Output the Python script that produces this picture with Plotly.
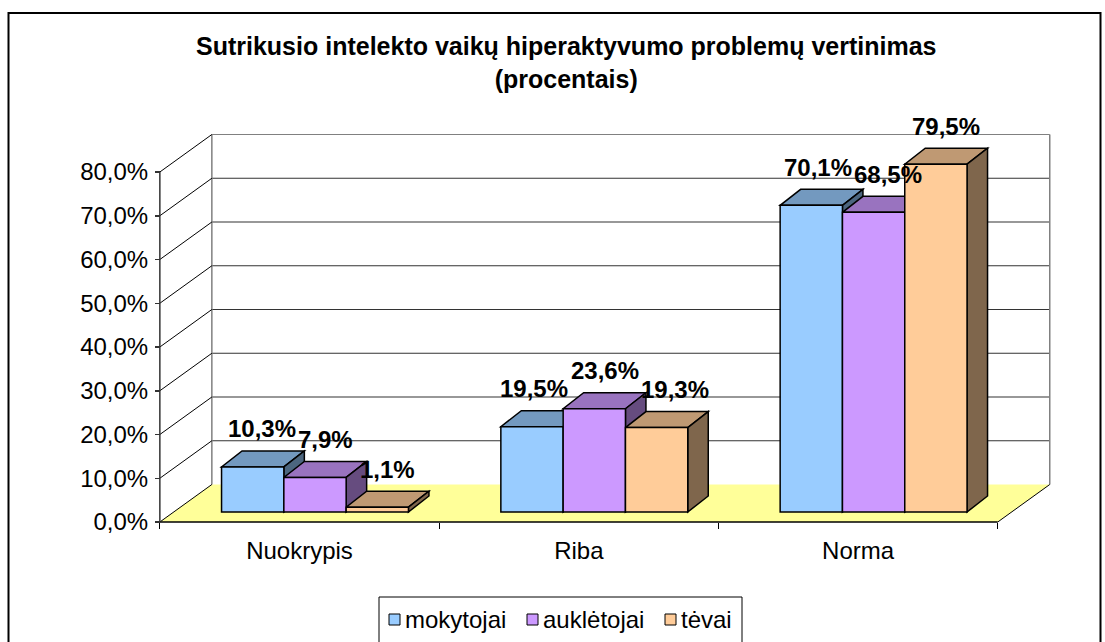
import plotly.graph_objects as go

# ---------------- data ----------------
categories = ["Nuokrypis", "Riba", "Norma"]
series_names = ["mokytojai", "auklėtojai", "tėvai"]
mokytojai = [10.3, 19.5, 70.1]
aukletojai = [7.9, 23.6, 68.5]
tevai = [1.1, 19.3, 79.5]
y_ticks = [0, 10, 20, 30, 40, 50, 60, 70, 80]
title_lines = ["Sutrikusio intelekto vaikų hiperaktyvumo problemų vertinimas", "(procentais)"]

series_values = [mokytojai, aukletojai, tevai]


def pct(v):
    return f"{v:.1f}".replace(".", ",") + "%"


y_tick_labels = [pct(v) for v in y_ticks]

# ---------------- styles ----------------
front_colors = ["#99CCFF", "#CC99FF", "#FFCC99"]
top_colors = ["#7399BF", "#9973BF", "#BF9973"]
side_colors = ["#4C667F", "#664C7F", "#7F664C"]
FONT = "Liberation Sans, Arial, sans-serif"

W, H = 1105, 642
FX0, CW = 299.5, 279.3      # pixel of first category centre (front plane), px per category
Y0, PPU = 522.0, 4.375      # pixel of 0 % (front plane), px per percent


def px_x(px):
    return (px - FX0) / CW


def ddx(px):
    return px / CW


def ddy(px):
    return px / PPU


x_range = [px_x(0), px_x(W)]
y_range = [(Y0 - H) / PPU, Y0 / PPU]

WALL_DX, WALL_DY = ddx(52), ddy(37.5)
PLANE_DX, PLANE_DY = ddx(15.5), ddy(10)
BAR_DX, BAR_DY = ddx(20.5), ddy(16)
BAR_W = ddx(62.3)
LABEL_LIFT = ddy(38)

n = len(categories)
xl, xr = -0.5, n - 0.5
ytop = max(y_ticks)

shapes = []


def poly(pts, fill, line_color="black", lw=1.5, layer="below"):
    path = "M " + " L ".join(f"{x},{y}" for x, y in pts) + " Z"
    return dict(type="path", xref="x", yref="y", path=path, fillcolor=fill,
                line=dict(color=line_color, width=lw), layer=layer)


def seg(x0, y0, x1, y1, color="black", lw=1, layer="below"):
    return dict(type="line", xref="x", yref="y", x0=x0, y0=y0, x1=x1, y1=y1,
                line=dict(color=color, width=lw), layer=layer)


# floor
shapes.append(dict(type="path", xref="x", yref="y",
                   path=f"M {xl},0 L {xr},0 L {xr + WALL_DX},{WALL_DY} L {xl + WALL_DX},{WALL_DY} Z",
                   fillcolor="#FFFF99", line=dict(width=0), layer="below"))
# back wall gridlines
for v in y_ticks[1:]:
    col = "#808080" if v == ytop else "#333333"
    shapes.append(seg(xl + WALL_DX, v + WALL_DY, xr + WALL_DX, v + WALL_DY, color=col, lw=1.2))
# back wall edges
shapes.append(seg(xl + WALL_DX, WALL_DY, xl + WALL_DX, ytop + WALL_DY, color="#808080", lw=1.5))
shapes.append(seg(xr + WALL_DX, WALL_DY, xr + WALL_DX, ytop + WALL_DY, color="#808080", lw=1.5))
# side wall diagonals
for v in y_ticks:
    shapes.append(seg(xl, v, xl + WALL_DX, v + WALL_DY, color="black", lw=1))
# floor right edge
shapes.append(seg(xr, 0, xr + WALL_DX, WALL_DY, color="black", lw=1))
# front axes lines
shapes.append(seg(xl, 0, xr, 0, color="black", lw=1.5))
shapes.append(seg(xl, 0, xl, ytop, color="#333333", lw=1.5))

# bar top / side faces (drawn below the front faces, which are bar traces)
for i in range(n):
    for j, vals in enumerate(series_values):
        v = vals[i]
        x0 = i + PLANE_DX + (j - 1.5) * BAR_W
        x1 = x0 + BAR_W
        b = PLANE_DY
        t = PLANE_DY + v
        shapes.append(poly([(x0, t), (x1, t), (x1 + BAR_DX, t + BAR_DY), (x0 + BAR_DX, t + BAR_DY)],
                           top_colors[j]))
        shapes.append(poly([(x1, b), (x1, t), (x1 + BAR_DX, t + BAR_DY), (x1 + BAR_DX, b + BAR_DY)],
                           side_colors[j]))

fig = go.Figure()
for j, vals in enumerate(series_values):
    fig.add_trace(go.Bar(
        x=list(range(n)), y=vals, base=PLANE_DY, width=BAR_W,
        offset=PLANE_DX + (j - 1.5) * BAR_W,
        marker=dict(color=front_colors[j], line=dict(color="black", width=1.5)),
        name=series_names[j], showlegend=False, hoverinfo="skip"))

# ---------------- data labels with simple horizontal de-overlap ----------------
LAB_SIZE = 24
labels = []
for i in range(n):
    for j, vals in enumerate(series_values):
        v = vals[i]
        txt = pct(v)
        cx = i + PLANE_DX + (j - 1) * BAR_W + BAR_DX / 2
        cy = PLANE_DY + v + LABEL_LIFT
        ndig = sum(ch.isdigit() for ch in txt)
        wpx = LAB_SIZE * (0.556 * ndig + 0.278 + 0.889)
        labels.append([FX0 + CW * cx, Y0 - PPU * cy, wpx, txt])

for _ in range(60):
    moved = False
    for a in range(len(labels)):
        for b_ in range(a + 1, len(labels)):
            A, B = labels[a], labels[b_]
            if abs(A[1] - B[1]) >= 22:
                continue
            need = (A[2] + B[2]) / 2 + 2
            d = B[0] - A[0]
            if abs(d) < need:
                push = (need - abs(d)) / 2 + 0.01
                s = 1 if d >= 0 else -1
                A[0] -= s * push
                B[0] += s * push
                moved = True
    if not moved:
        break

annotations = []
for px, py, wpx, txt in labels:
    annotations.append(dict(xref="x", yref="y", x=px_x(px), y=(Y0 - py) / PPU,
                            text=f"<b>{txt}</b>", showarrow=False, xanchor="center", yanchor="middle",
                            font=dict(family=FONT, size=LAB_SIZE, color="black")))

# title
annotations.append(dict(xref="paper", yref="paper", x=566 / W, y=1 - 63 / H,
                        text="<b>" + "<br>".join(title_lines) + "</b>", showarrow=False,
                        xanchor="center", yanchor="middle",
                        font=dict(family=FONT, size=25, color="black")))

# outer chart border
shapes.append(dict(type="rect", xref="paper", yref="paper", x0=8.5 / W, x1=1100.5 / W,
                   y0=1 - 700 / H, y1=1 - 13 / H, line=dict(color="black", width=2),
                   fillcolor="rgba(0,0,0,0)", layer="above"))

# legend (custom, box cut by the bottom edge as in the picture)
shapes.append(dict(type="rect", xref="paper", yref="paper", x0=379 / W, x1=742 / W,
                   y0=1 - 680 / H, y1=1 - 597 / H, line=dict(color="black", width=1),
                   fillcolor="white", layer="above"))
legend_x = [389, 527, 665]
for j, name in enumerate(series_names):
    sx = legend_x[j]
    shapes.append(dict(type="rect", xref="paper", yref="paper", x0=sx / W, x1=(sx + 11) / W,
                       y0=1 - 625 / H, y1=1 - 614 / H, line=dict(color="black", width=1),
                       fillcolor=front_colors[j], layer="above"))
    annotations.append(dict(xref="paper", yref="paper", x=(sx + 14) / W, y=1 - 619.5 / H,
                            text=name, showarrow=False, xanchor="left", yanchor="middle",
                            font=dict(family=FONT, size=24, color="black")))

fig.update_layout(
    width=W, height=H, margin=dict(l=0, r=0, t=0, b=0),
    paper_bgcolor="white", plot_bgcolor="rgba(0,0,0,0)",
    separators=",.", barmode="overlay", showlegend=False,
    shapes=shapes, annotations=annotations,
    xaxis=dict(range=x_range, domain=[0, 1], anchor="free", position=(H - Y0) / H,
               tickmode="array", tickvals=list(range(n)), ticktext=categories,
               ticks="", showgrid=False, zeroline=False, showline=False,
               tickfont=dict(family=FONT, size=24, color="black"), ticklabelstandoff=12,
               minor=dict(tickmode="array", tickvals=[k - 0.5 for k in range(n + 1)],
                          ticks="outside", ticklen=6, tickcolor="black", tickwidth=1,
                          showgrid=False),
               fixedrange=True),
    yaxis=dict(range=y_range, domain=[0, 1], anchor="free", position=160 / W,
               tickmode="array", tickvals=y_ticks, ticktext=y_tick_labels,
               ticks="outside", ticklen=5, tickcolor="#333333", tickwidth=1.5,
               showgrid=False, zeroline=False, showline=False,
               tickfont=dict(family=FONT, size=24, color="black"), ticklabelstandoff=2,
               fixedrange=True),
)

fig.write_html("out.html", config={"displayModeBar": False, "staticPlot": True},
               post_script="document.body.style.margin='0';")
